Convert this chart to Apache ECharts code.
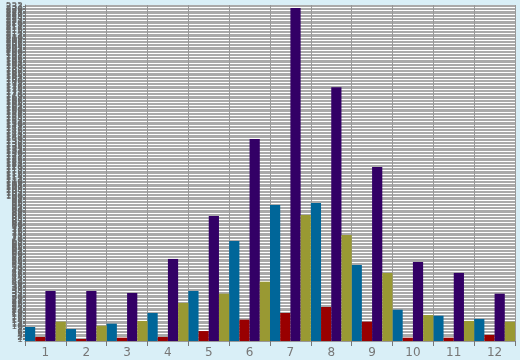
<!DOCTYPE html>
<html><head><meta charset="utf-8">
<script src="https://cdn.jsdelivr.net/npm/echarts@6/dist/echarts.min.js"></script>
<style>html,body{margin:0;padding:0;background:#d9eff7;}#c{width:520px;height:360px;}</style>
</head><body><div id="c"></div>
<script>
var categories = ['1','2','3','4','5','6','7','8','9','10','11','12'];
var seriesTeal   = [9.7, 8.3, 12, 19.4, 34.7, 69.4, 94.3, 95.7, 52.7, 21.7, 17.5, 15.3];
var seriesRed    = [2.8, 1.4, 2.3, 2.8, 6.9, 14.8, 19.4, 23.6, 13.4, 2.3, 2.3, 4.2];
var seriesPurple = [34.7, 34.7, 33.3, 56.9, 86.7, 140, 231, 176, 120.7, 54.8, 47.2, 32.8];
var seriesOlive  = [13.4, 10.6, 13.9, 26.4, 32.8, 41.1, 87.4, 73.5, 47.2, 18, 13.9, 13.4];
var yMax = 233;

var chart = echarts.init(document.getElementById('c'), null, {renderer:'canvas'});
function bar(data, color){
  return {type:'bar', data:data, barGap:'0%', barCategoryGap:'0%', itemStyle:{color:color}, animation:false};
}
chart.setOption({
  animation:false,
  backgroundColor:'#d9eff7',
  grid:{left:25, right:5, top:5, bottom:19, show:true, backgroundColor:'#ffffff', borderWidth:0},
  xAxis:{type:'category', data:categories, boundaryGap:true,
    axisLine:{show:true, lineStyle:{color:'#999'}},
    axisTick:{show:true, length:5, lineStyle:{color:'#777'}},
    splitLine:{show:true, lineStyle:{color:'#999'}},
    axisLabel:{color:'#777', fontSize:12, fontFamily:'DejaVu Sans', margin:6}},
  yAxis:{type:'value', min:0, max:yMax, interval:1,
    axisLine:{show:true, lineStyle:{color:'#777'}},
    axisTick:{show:true, length:2, lineStyle:{color:'#777'}},
    splitLine:{show:true, lineStyle:{color:'#aaaaaa'}},
    axisLabel:{color:'#666', fontSize:9, fontFamily:'DejaVu Sans', margin:2, interval:0}},
  series:[bar(seriesTeal,'#006699'), bar(seriesRed,'#990000'), bar(seriesPurple,'#330066'), bar(seriesOlive,'#999933')]
});
</script></body></html>
